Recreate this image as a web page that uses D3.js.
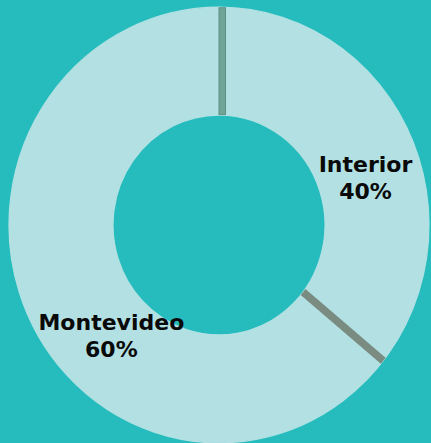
<!DOCTYPE html>
<html>
<head>
<meta charset="utf-8">
<script src="https://cdn.jsdelivr.net/npm/d3@7"></script>
<style>
  html, body { margin: 0; padding: 0; background: #26bcbd; }
  svg { display: block; }
</style>
</head>
<body>
<svg id="chart" width="431" height="443"></svg>
<script>
// ---- data ----
const categories = ["Interior", "Montevideo"];
const values = [40, 60];
const percentLabels = ["40%", "60%"];
// divider positions, as a share of the full circle
const dividerShares = [0, 0.36];

// ---- layout ----
const W = 431, H = 443;
const cx = 219, cy = 225;
const outerR = 210, innerR = 106, stretchY = 1.037;
const labelR = 154;
const labelFrac = [0.5, 0.372];
const dividerX = [0, -7];
const dividerFill = ["#6fa597", "#7a8c81"];
const dividerStroke = ["#5f8f84", "#7a8c81"];

const svg = d3.select("#chart");
svg.append("rect").attr("width", W).attr("height", H).attr("fill", "#26bcbd");

const pie = d3.pie().sort(null).value(d => d)(values);
const arc = d3.arc().innerRadius(innerR).outerRadius(outerR);
const shareToAngle = d3.scaleLinear().domain([0, 1]).range([0, 2 * Math.PI]);

const g = svg.append("g").attr("transform", `translate(${cx},${cy}) scale(1,${stretchY})`);

g.selectAll("path.slice").data(pie).join("path")
  .attr("class", "slice")
  .attr("d", arc)
  .attr("fill", "#b3e1e3")
  .attr("stroke", "#b3e1e3")
  .attr("stroke-width", 1.2);

g.selectAll("g.divider").data(dividerShares).join("g")
  .attr("class", "divider")
  .attr("transform", d => `rotate(${shareToAngle(d) * 180 / Math.PI})`)
  .append("rect")
  .attr("x", (d, i) => dividerX[i]).attr("width", 6.5)
  .attr("y", -outerR + 0.5).attr("height", outerR - innerR - 1)
  .attr("fill", (d, i) => dividerFill[i])
  .attr("stroke", (d, i) => dividerStroke[i])
  .attr("stroke-width", 1);

const labelArc = d3.arc().innerRadius(labelR).outerRadius(labelR);
const lg = svg.append("g").attr("transform", `translate(${cx},${cy})`);
pie.forEach((d, i) => {
  const a = d.startAngle + (d.endAngle - d.startAngle) * labelFrac[i];
  const [x, y] = labelArc.centroid({ startAngle: a, endAngle: a });
  const t = lg.append("text")
    .attr("text-anchor", "middle")
    .attr("font-family", "DejaVu Sans, Verdana, sans-serif")
    .attr("font-weight", "bold")
    .attr("font-size", 22)
    .attr("fill", "#0a0a0a");
  t.append("tspan").attr("x", x).attr("y", y - 5).text(categories[i]);
  t.append("tspan").attr("x", x).attr("y", y + 22).text(percentLabels[i]);
});
</script>
</body>
</html>
